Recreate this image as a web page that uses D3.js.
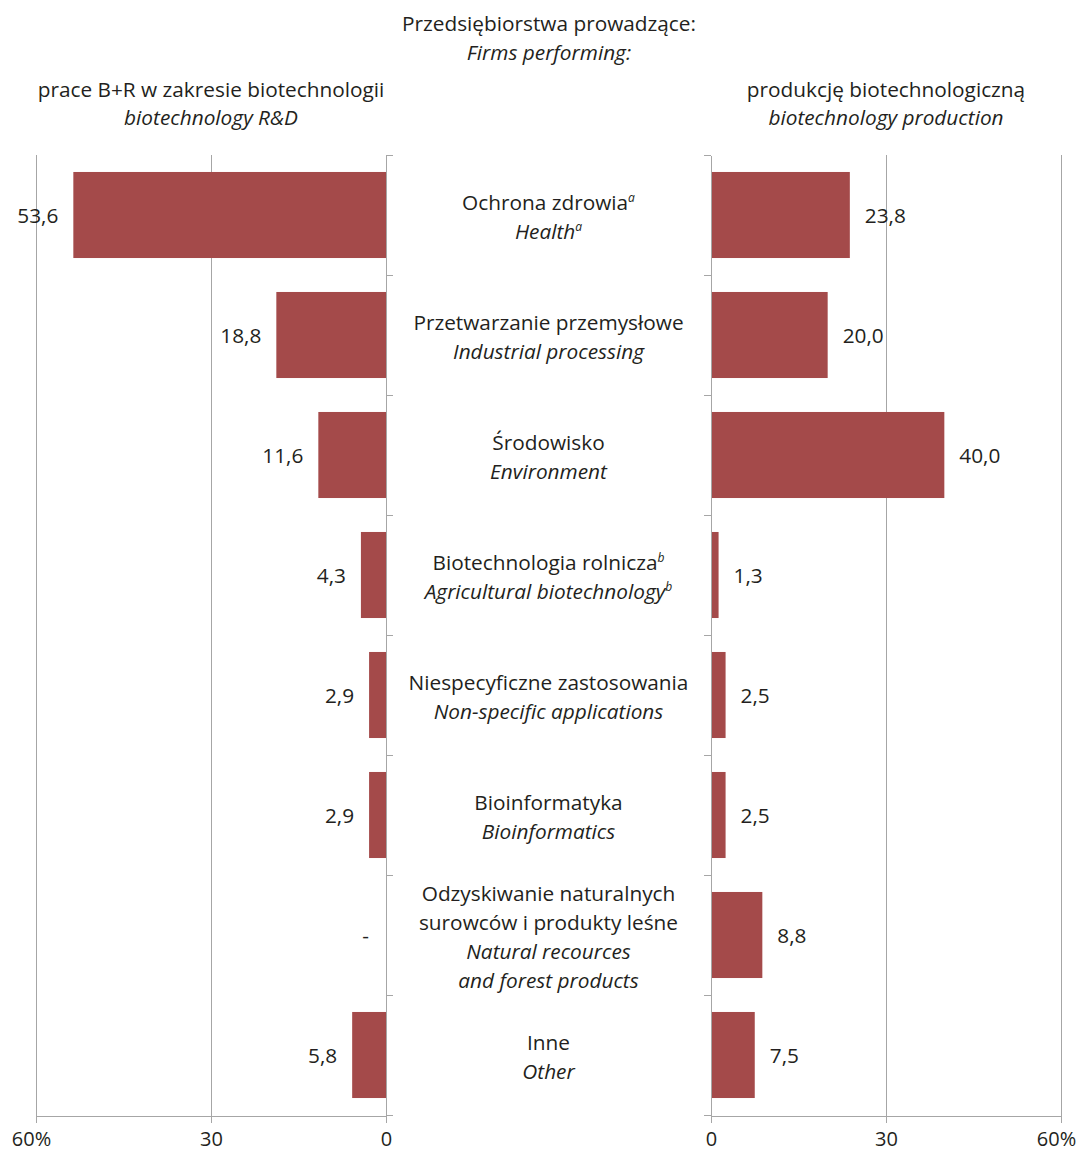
<!DOCTYPE html>
<html><head><meta charset="utf-8">
<script src="https://cdn.jsdelivr.net/npm/d3@7"></script>
<style>body{margin:0;background:#fff}svg{display:block}text{font-family:"Open Sans",sans-serif;fill:#231f20}</style>
</head><body><div id="c"></div>
<script>
const categoriesPL = [["Ochrona zdrowia"],["Przetwarzanie przemysłowe"],["Środowisko"],["Biotechnologia rolnicza"],["Niespecyficzne zastosowania"],["Bioinformatyka"],["Odzyskiwanie naturalnych","surowców i produkty leśne"],["Inne"]];
const categoriesEN = [["Health"],["Industrial processing"],["Environment"],["Agricultural biotechnology"],["Non-specific applications"],["Bioinformatics"],["Natural recources","and forest products"],["Other"]];
const footnotes = ["a","","","b","","","",""];
const rdValues = [53.6, 18.8, 11.6, 4.3, 2.9, 2.9, null, 5.8];
const prodValues = [23.8, 20.0, 40.0, 1.3, 2.5, 2.5, 8.8, 7.5];
const tickValues = [0, 30, 60];
const titleLines = ["Przedsiębiorstwa prowadzące:", "Firms performing:"];
const leftTitle = ["prace B+R w zakresie biotechnologii", "biotechnology R&D"];
const rightTitle = ["produkcję biotechnologiczną", "biotechnology production"];

const W = 1081, H = 1150;
const FS = 20.8;
const barColor = "#a44a4a", axisColor = "#a6a6a6";
const svg = d3.select("#c").append("svg").attr("width", W).attr("height", H);

const idx = d3.range(categoriesPL.length);
const y = d3.scaleBand().domain(idx).range([155, 1115]).paddingInner(0.283).paddingOuter(0.1415);
const yEdge = d3.scaleLinear().domain([0, idx.length]).range([155, 1115]);
const xL = d3.scaleLinear().domain([0, 60]).range([386, 36]);
const xR = d3.scaleLinear().domain([0, 60]).range([711, 1061]);
const fmt = v => d3.format(".1f")(v).replace(".", ",");

// gridlines
function grid(x) {
  svg.append("g").selectAll("line").data(tickValues.filter(t => t > 0)).join("line")
    .attr("x1", d => x(d)).attr("x2", d => x(d)).attr("y1", 155).attr("y2", 1116)
    .attr("stroke", axisColor).attr("stroke-width", 1).attr("shape-rendering", "crispEdges");
}
grid(xL); grid(xR);

// bars
svg.append("g").selectAll("rect").data(idx.filter(i => rdValues[i] != null)).join("rect")
  .attr("x", i => xL(rdValues[i])).attr("width", i => xL(0) - xL(rdValues[i]))
  .attr("y", i => y(i)).attr("height", y.bandwidth()).attr("fill", barColor);
svg.append("g").selectAll("rect").data(idx).join("rect")
  .attr("x", xR(0)).attr("width", i => xR(prodValues[i]) - xR(0))
  .attr("y", i => y(i)).attr("height", y.bandwidth()).attr("fill", barColor);

// value labels
svg.append("g").selectAll("text").data(idx).join("text")
  .attr("x", i => rdValues[i] == null ? xL(0) - 17 : xL(rdValues[i]) - 15)
  .attr("y", i => y(i) + y.bandwidth() / 2 + 8)
  .attr("text-anchor", "end").attr("font-size", FS)
  .text(i => rdValues[i] == null ? "-" : fmt(rdValues[i]));
svg.append("g").selectAll("text").data(idx).join("text")
  .attr("x", i => xR(prodValues[i]) + 15)
  .attr("y", i => y(i) + y.bandwidth() / 2 + 8)
  .attr("font-size", FS)
  .text(i => fmt(prodValues[i]));

// vertical axes
const axL = d3.axisRight(yEdge).tickValues(d3.range(idx.length + 1)).tickSize(7).tickSizeOuter(0).tickFormat("");
const axR = d3.axisLeft(yEdge).tickValues(d3.range(idx.length + 1)).tickSize(7).tickSizeOuter(0).tickFormat("");
const gL = svg.append("g").attr("transform", "translate(386,0)").call(axL);
const gR = svg.append("g").attr("transform", "translate(711,0)").call(axR);

// bottom axes
const bL = d3.axisBottom(xL).tickValues(tickValues).tickSize(7).tickSizeOuter(0)
  .tickFormat(d => d === 60 ? "60%" : d);
const bR = d3.axisBottom(xR).tickValues(tickValues).tickSize(7).tickSizeOuter(0)
  .tickFormat(d => d === 60 ? "60%" : d);
const gbL = svg.append("g").attr("transform", "translate(0,1116)").call(bL);
const gbR = svg.append("g").attr("transform", "translate(0,1116)").call(bR);
[gL, gR, gbL, gbR].forEach(g => {
  g.selectAll("path,line").attr("stroke", axisColor).attr("shape-rendering", "crispEdges");
  g.selectAll("text").attr("font-size", 20).attr("font-family", '"Open Sans",sans-serif').attr("fill", "#231f20");
});
[gbL, gbR].forEach(g => g.selectAll("text").attr("dy", "0").attr("y", 29.5)
  .attr("dx", d => d === 60 ? -5 : 0));

// category labels
const cx = 548.5, lh = 29;
const catG = svg.append("g").attr("text-anchor", "middle").attr("font-size", FS);
idx.forEach(i => {
  const lines = categoriesPL[i].map(t => ({t, it: false})).concat(categoriesEN[i].map(t => ({t, it: true})));
  const n = lines.length;
  const cy = y(i) + y.bandwidth() / 2;
  const y0 = cy - (n - 1) * lh / 2 + 9.5;
  lines.forEach((l, j) => {
    const isLastPL = j === categoriesPL[i].length - 1;
    const isLastEN = j === n - 1;
    const t = catG.append("text").attr("x", cx).attr("y", y0 + j * lh)
      .attr("font-style", l.it ? "italic" : "normal");
    t.append("tspan").text(l.t);
    if (footnotes[i] && (isLastPL || isLastEN)) {
      t.append("tspan").attr("font-size", FS * 0.58).attr("font-style", "italic").attr("dy", -8).text(footnotes[i]);
    }
  });
});

// titles
const tg = svg.append("g").attr("text-anchor", "middle").attr("font-size", FS);
tg.append("text").attr("x", 549).attr("y", 31).text(titleLines[0]);
tg.append("text").attr("x", 549).attr("y", 60).attr("font-style", "italic").text(titleLines[1]);
tg.append("text").attr("x", 211).attr("y", 97).text(leftTitle[0]);
tg.append("text").attr("x", 211).attr("y", 125).attr("font-style", "italic").text(leftTitle[1]);
tg.append("text").attr("x", 886).attr("y", 97).text(rightTitle[0]);
tg.append("text").attr("x", 886).attr("y", 125).attr("font-style", "italic").text(rightTitle[1]);
</script></body></html>
